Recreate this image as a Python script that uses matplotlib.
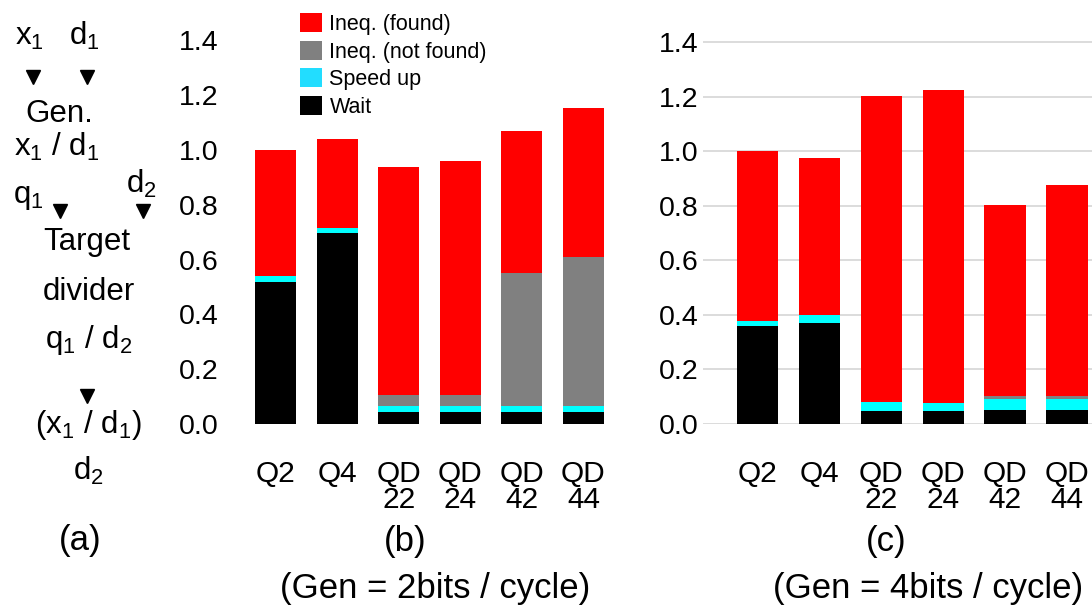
import numpy as np
import matplotlib
matplotlib.use('Agg')
import matplotlib.pyplot as plt
from matplotlib.patches import Patch
from matplotlib.lines import Line2D

plt.rcParams['font.family'] = ['Liberation Sans', 'DejaVu Sans']
plt.rcParams['mathtext.fontset'] = 'custom'
plt.rcParams['mathtext.rm'] = 'Liberation Sans'
plt.rcParams['mathtext.it'] = 'Liberation Sans'
plt.rcParams['mathtext.default'] = 'regular'

W, H = 1092, 607

categories = ['Q2', 'Q4', 'QD\n22', 'QD\n24', 'QD\n42', 'QD\n44']
series = ['Wait', 'Speed up', 'Ineq. (not found)', 'Ineq. (found)']

# Gen = 2bits / cycle
wait_b = [0.518, 0.697, 0.044, 0.044, 0.044, 0.044]
speed_b = [0.022, 0.018, 0.022, 0.022, 0.022, 0.022]
notfound_b = [0.0, 0.0, 0.040, 0.040, 0.485, 0.543]
found_b = [0.460, 0.325, 0.832, 0.854, 0.518, 0.544]

# Gen = 4bits / cycle
wait_c = [0.359, 0.370, 0.048, 0.048, 0.051, 0.051]
speed_c = [0.019, 0.030, 0.033, 0.029, 0.041, 0.041]
notfound_c = [0.0, 0.0, 0.0, 0.0, 0.011, 0.011]
found_c = [0.622, 0.575, 1.122, 1.148, 0.700, 0.773]

colors = ['#000000', '#00ffff', '#808080', '#ff0000']
legend_colors = {'Ineq. (found)': '#ff0000', 'Ineq. (not found)': '#808080',
                 'Speed up': '#22ddff', 'Wait': '#000000'}

FS = 20.5      # y tick labels
XFS = 21.5     # category labels
CAP = 25       # sub captions
DIA = 22.5     # diagram text


def px(x, y):
    return x / W, 1 - y / H


def stacked(ax, layers):
    x = np.arange(len(categories))
    bottom = np.zeros(len(categories))
    for vals, c in zip(layers, colors):
        ax.bar(x, vals, 0.667, bottom=bottom, color=c, linewidth=0)
        bottom += np.array(vals)
    ax.set_xticks(x)
    ax.set_xticklabels(categories, linespacing=0.9, fontsize=XFS)
    ax.set_ylim(0, 1.5)
    ax.set_yticks(np.arange(0, 1.41, 0.2))
    ax.set_yticklabels(['%.1f' % v for v in np.arange(0, 1.41, 0.2)], fontsize=FS)
    ax.tick_params(length=0)
    ax.tick_params(axis='x', pad=26)
    for s in ax.spines.values():
        s.set_visible(False)


fig = plt.figure(figsize=(W / 100, H / 100), dpi=100)

# panel (b): axes from 224px to 624px, zero at 424px, 274px per unit
axb = fig.add_axes([224 / W, (H - 424) / H, 400 / W, 1.5 * 274 / H])
stacked(axb, [wait_b, speed_b, notfound_b, found_b])
axb.set_xlim((224 - 275.5) / 61.6, (624 - 275.5) / 61.6)
axb.tick_params(axis='y', pad=4)

# panel (c): runs past the right edge of the figure
axc = fig.add_axes([703 / W, (H - 424) / H, 420 / W, 1.5 * 272.7 / H])
stacked(axc, [wait_c, speed_c, notfound_c, found_c])
axc.set_xlim((703 - 757.5) / 61.9, (1123 - 757.5) / 61.9)
axc.tick_params(axis='y', pad=3.5)
axc.set_axisbelow(True)
axc.yaxis.grid(True, color='#d9d9d9', linewidth=1.3)

handles = [Patch(facecolor=legend_colors[k], edgecolor='none', label=k)
           for k in ['Ineq. (found)', 'Ineq. (not found)', 'Speed up', 'Wait']]
fig.legend(handles=handles, loc='upper left', bbox_to_anchor=px(300, 13),
           frameon=False, fontsize=15.5, handlelength=1.0, handleheight=1.0,
           handletextpad=0.37, labelspacing=0.26, borderpad=0, borderaxespad=0)

# sub captions
fig.text(*px(405, 551), '(b)', ha='center', va='baseline', fontsize=CAP)
fig.text(*px(435, 598), '(Gen = 2bits / cycle)', ha='center', va='baseline', fontsize=CAP)
fig.text(*px(886, 551), '(c)', ha='center', va='baseline', fontsize=CAP)
fig.text(*px(928, 598), '(Gen = 4bits / cycle)', ha='center', va='baseline', fontsize=CAP)

# panel (a): divider diagram
diagram = [
    (29, 45, '$x_1$'), (84, 45, '$d_1$'),
    (59, 122, 'Gen.'),
    (57, 156, '$x_1$ / $d_1$'),
    (141, 193, '$d_2$'), (28, 203, '$q_1$'),
    (87, 250, 'Target'), (89, 300, 'divider'),
    (89, 348, '$q_1$ / $d_2$'),
    (88, 433, '($x_1$ / $d_1$)'),
    (88, 480, '$d_2$'),
]
for x, y, s in diagram:
    fig.text(*px(x, y), s, ha='center', va='baseline', fontsize=DIA)
fig.text(*px(80, 550), '(a)', ha='center', va='baseline', fontsize=CAP)

arrows = [(33, 77), (87, 77), (60, 211), (143, 211), (87, 396)]
for x, y in arrows:
    fig.add_artist(Line2D([x / W], [1 - y / H], marker='v', markersize=9.5,
                          color='black', linestyle='none', transform=fig.transFigure))

fig.savefig('out.png', dpi=100)
